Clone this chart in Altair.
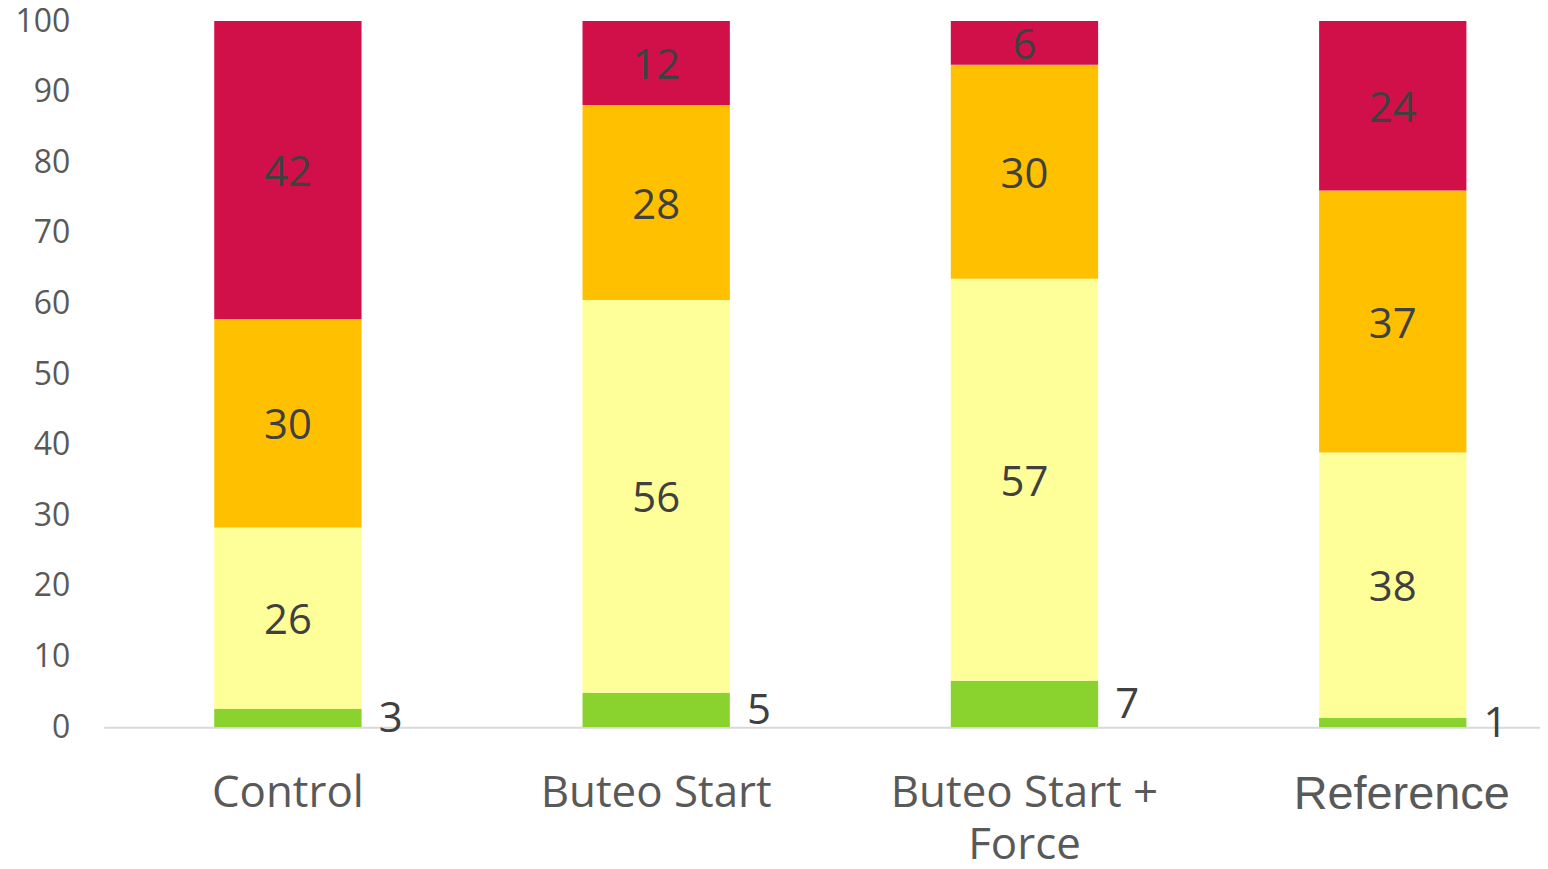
import altair as alt
import pandas as pd

categories = ["Control", "Buteo Start", "Buteo Start + Force", "Reference"]
levels = ["green", "yellow", "orange", "red"]
green = [2.6, 4.9, 6.6, 1.3]
yellow = [25.7, 55.6, 56.9, 37.6]
orange = [29.5, 27.6, 30.3, 37.1]
red = [42.2, 11.9, 6.2, 24.0]
colors = ["#8AD22D", "#FFFF99", "#FFC000", "#D1104A"]
y_ticks = list(range(0, 101, 10))

rows = []
for i, c in enumerate(categories):
    for j, (lvl, vals) in enumerate(zip(levels, [green, yellow, orange, red])):
        rows.append({"group": c, "level": lvl, "order": j, "value": vals[i]})
df = pd.DataFrame(rows)

xscale = alt.Scale(domain=categories, range=[0, 1477], paddingInner=0.6, paddingOuter=0.3, round=False)
yscale = alt.Scale(domain=[0, 100], nice=False)

is_ref = "datum.value == 'Reference'"
x_axis = alt.Axis(
    title=None,
    ticks=False,
    grid=False,
    domainColor="#D9D9D9",
    domainWidth=2,
    labelAngle=0,
    labelFontSize={"condition": {"test": is_ref, "value": 47}, "value": 44},
    labelColor="#595959",
    labelFont={"condition": {"test": is_ref, "value": "Liberation Sans"}, "value": "Open Sans"},
    labelOffset={"condition": {"test": is_ref, "value": 9}, "value": 0},
    labelPadding=44,
    labelLimit=0,
    labelLineHeight=53,
    labelExpr="datum.value == 'Buteo Start + Force' ? ['Buteo Start +', 'Force'] : datum.value",
)
y_axis = alt.Axis(
    title=None,
    values=y_ticks,
    domain=False,
    ticks=False,
    grid=False,
    labelFontSize=32,
    labelFont="Open Sans",
    labelColor="#595959",
    labelPadding=34,
)

base = alt.Chart(df).transform_stack(
    stack="value", as_=["y0", "y1"], groupby=["group"], sort=[alt.SortField("order")]
).transform_calculate(mid="(datum.y0 + min(datum.y1, 100)) / 2")

bars = base.mark_bar(clip=True).encode(
    x=alt.X("group:N", scale=xscale, sort=categories, axis=x_axis),
    y=alt.Y("y0:Q", scale=yscale, axis=y_axis),
    y2="y1:Q",
    color=alt.Color("level:N", scale=alt.Scale(domain=levels, range=colors), legend=None),
)

inner = base.transform_filter("datum.level != 'green'").mark_text(
    font="Open Sans", fontSize=42, color="#404040", baseline="middle", dy=3
).encode(
    x=alt.X("group:N", scale=xscale, sort=categories),
    y=alt.Y("mid:Q", scale=yscale),
    text=alt.Text("value:Q", format=".0f"),
)

outer = base.transform_filter("datum.level == 'green'").mark_text(
    font="Open Sans", fontSize=42, color="#404040", baseline="middle", align="left", dx=91, dy=1
).encode(
    x=alt.X("group:N", scale=xscale, sort=categories),
    y=alt.Y("mid:Q", scale=yscale),
    text=alt.Text("value:Q", format=".0f"),
)

chart = alt.layer(bars, inner, outer).properties(
    width=1440,
    height=708,
    padding={"left": 96, "top": 12, "right": 0, "bottom": 133},
    autosize="none",
).configure_view(stroke=None)

chart.save("out.html", embed_options={"renderer": "svg", "actions": False})
